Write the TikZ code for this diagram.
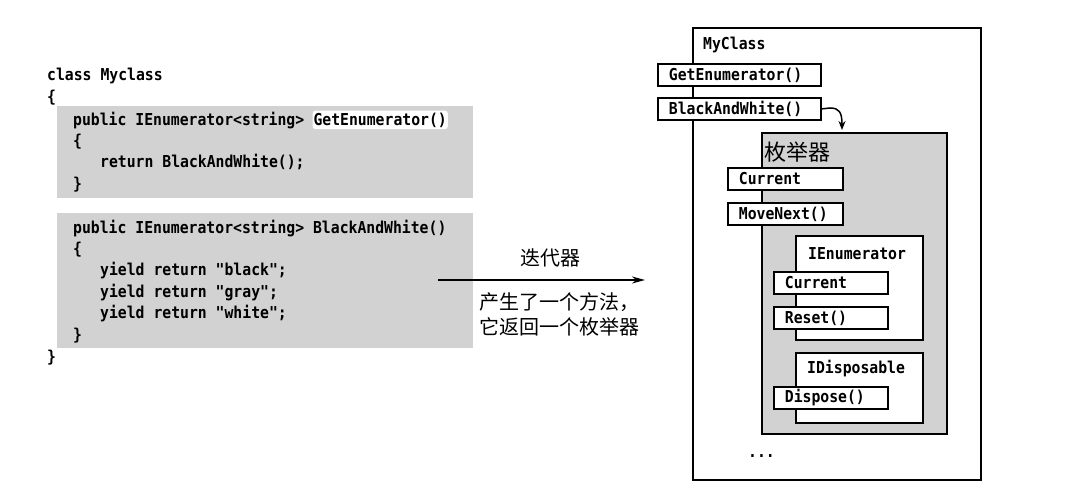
\documentclass[tikz,border=0pt]{standalone}
\usepackage{fontspec}
\setmonofont{DejaVu Sans Mono}[FakeStretch=0.9]
\newfontfamily\cjk{Noto Sans CJK SC}
\usetikzlibrary{arrows.meta}
\tikzset{
  code/.style={font=\ttfamily\bfseries\fontsize{16.4}{18}\selectfont, inner sep=0pt, anchor=base west},
  shadebox/.style={fill=gray!35, draw=none},
  mbox/.style={draw, fill=white, line width=1.8pt, anchor=north west, inner xsep=11pt, inner ysep=0pt,
     minimum height=22pt, align=left, font=\ttfamily\bfseries\fontsize{16.4}{18}\selectfont},
  ifbox/.style={draw, fill=white, line width=1.8pt, anchor=north west, inner sep=0pt},
  cjklabel/.style={font=\cjk\fontsize{20}{25}\selectfont, inner sep=0pt},
}
\begin{document}
\begin{tikzpicture}[x=1pt,y=-1pt]
\useasboundingbox (0,0) rectangle (1070,503);
% left code
\fill[shadebox] (57,106) rectangle (473,198);
\fill[shadebox] (57,213) rectangle (473,348);
\node[code] (c1) at (47,80) {class Myclass};
\node[code] (c2) at (47,102) {\{};
\node[code] (c3) at (73,125) {public IEnumerator<string>};
\node[code, fill=white, rounded corners=3pt, inner xsep=1pt, inner ysep=2pt] (c3b) at ([xshift=7.9pt]c3.base east) {GetEnumerator()};
\node[code] (c4) at (73,146) {\{};
\node[code] (c5) at (100,167) {return BlackAndWhite();};
\node[code] (c6) at (73,189) {\}};
\node[code] (c7) at (73,233) {public IEnumerator<string> BlackAndWhite()};
\node[code] (c8) at (73,254) {\{};
\node[code] (c9) at (100,275) {yield return "black";};
\node[code] (c10) at (100,297) {yield return "gray";};
\node[code] (c11) at (100,318) {yield return "white";};
\node[code] (c12) at (73,340) {\}};
\node[code] (c13) at (47,362) {\}};
% middle arrow
\coordinate (astart) at (438,280);
\coordinate (aend) at (645,280);
\draw[line width=1.6pt, -{Stealth[length=13pt,width=7pt]}] (astart) -- (aend);
\node[cjklabel] (it) at (550,258) {迭代器};
\node[cjklabel, anchor=west, align=left] (desc) at (479,314.5) {产生了一个方法，\\它返回一个枚举器};
% right: MyClass
\node[draw, line width=1.6pt, anchor=north west, minimum width=288pt, minimum height=452pt, inner sep=0pt] (myclass) at (692,27) {};
\node[code] (mcl) at (703,50) {MyClass};
\node[mbox, text width=141pt] (ge) at (657,63) {GetEnumerator()};
\node[mbox, text width=141pt] (bw) at (657,97) {BlackAndWhite()};
% enumerator box
\node[draw, line width=1.8pt, fill=gray!35, anchor=north west, minimum width=185pt, minimum height=301pt, inner sep=0pt] (enum) at (761,132) {};
\node[font=\cjk\fontsize{22}{24}\selectfont, inner sep=0pt, anchor=west] (enuml) at (764,152) {枚举器};
\coordinate (bwend) at (842,130);
\draw[line width=1.5pt, -{Stealth[length=9pt,width=7pt]}] (bw.east) -- (830,108) .. controls (839,108) and (842,112) .. (bwend);
\node[mbox, text width=93pt] (cur) at (727,167) {Current};
\node[mbox, text width=93pt] (mn) at (727,202) {MoveNext()};
% IEnumerator
\node[ifbox, minimum width=127pt, minimum height=104pt] (ienum) at (795,235) {};
\node[code] (ienuml) at (808,259) {IEnumerator};
\node[mbox, text width=92pt] (cur2) at (773,271) {Current};
\node[mbox, text width=92pt] (reset) at (773,306) {Reset()};
% IDisposable
\node[ifbox, minimum width=127pt, minimum height=70pt] (idisp) at (795,352) {};
\node[code] (idispl) at (807,373) {IDisposable};
\node[mbox, text width=92pt] (disp) at (773,386) {Dispose()};
\node[code] (dots) at (748,457) {...};
\end{tikzpicture}
\end{document}
